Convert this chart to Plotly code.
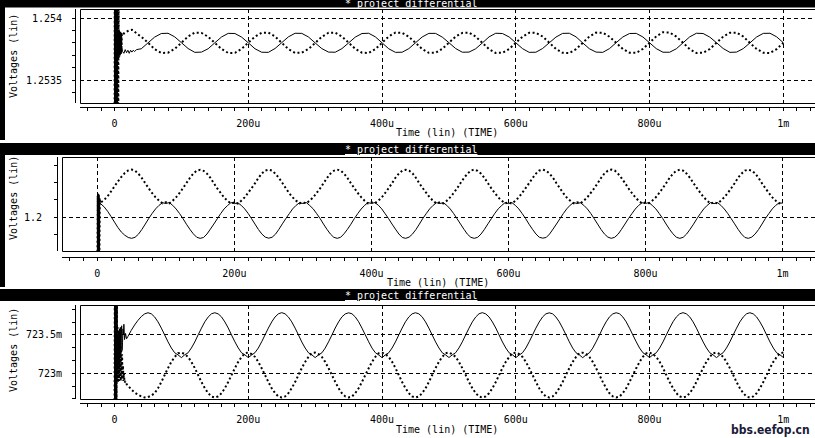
import plotly.graph_objects as go

W, H = 815, 438

# ---------------- axis ticks ----------------
TIME_TICKS = [0, 200e-6, 400e-6, 600e-6, 800e-6, 1e-3]
TIME_TICK_LABELS = ["0", "200u", "400u", "600u", "800u", "1m"]
X_RANGE = [-51.6e-6, 1047.3e-6]

P1_YTICKS = [1.2535, 1.254]
P1_YLABELS = ["1.2535", "1.254"]
P2_YTICKS = [1.2]
P2_YLABELS = ["1.2"]
P3_YTICKS = [0.723, 0.7235]
P3_YLABELS = ["723m", "723.5m"]

# ---------------- panel 1 data (time in us, voltage in mV) ----------------
P1_T_TR = [0, 0.4, 0.8, 1.2, 1.6, 2.0, 2.4, 2.8, 3.2, 3.6, 4.0, 4.4, 4.8, 5.2, 5.6, 6.0, 6.4, 6.8, 7.2,
           7.6, 8.0, 8.4, 8.8, 9.2, 9.6, 10.0, 10.5, 11.0, 12, 14, 16, 18, 20, 22, 24, 26, 28, 30, 33]
P1_SOLID_TR = [1252.8, 1254.6, 1252.8, 1254.6, 1252.8, 1254.6, 1252.8, 1254.6, 1252.9, 1253.86, 1253.70,
               1253.85, 1253.68, 1253.84, 1253.70, 1253.83, 1253.70, 1253.82, 1253.71, 1253.81, 1253.70,
               1253.80, 1253.72, 1253.79, 1253.71, 1253.78, 1253.72, 1253.76, 1253.73, 1253.715, 1253.745,
               1253.72, 1253.74, 1253.715, 1253.74, 1253.725, 1253.74, 1253.73, 1253.745]
P1_DOTTED_TR = [1252.8, 1254.6, 1252.8, 1254.6, 1252.8, 1254.6, 1252.8, 1254.6, 1252.8, 1254.6, 1252.8,
                1254.6, 1252.8, 1254.6, 1252.8, 1254.6, 1253.68, 1253.90, 1253.69, 1253.89, 1253.70,
                1253.89, 1253.71, 1253.88, 1253.73, 1253.88, 1253.76, 1253.87, 1253.86, 1253.875, 1253.885,
                1253.89, 1253.895, 1253.90, 1253.903, 1253.905, 1253.90, 1253.89, 1253.875]
P1_T_STEADY = list(range(40, 1001, 10))
P1_SOLID = [
    1253.752, 1253.799, 1253.846, 1253.875, 1253.877, 1253.848,
    1253.801, 1253.754, 1253.723, 1253.725, 1253.752, 1253.800, 1253.847, 1253.876, 1253.875, 1253.846,
    1253.800, 1253.752, 1253.724, 1253.723, 1253.754, 1253.801, 1253.848, 1253.877, 1253.876, 1253.847,
    1253.799, 1253.753, 1253.725, 1253.724, 1253.753, 1253.799, 1253.846, 1253.875, 1253.877, 1253.848,
    1253.800, 1253.752, 1253.723, 1253.724, 1253.753, 1253.800, 1253.847, 1253.876, 1253.876, 1253.846,
    1253.801, 1253.754, 1253.724, 1253.725, 1253.752, 1253.799, 1253.848, 1253.877, 1253.875, 1253.847,
    1253.800, 1253.753, 1253.723, 1253.724, 1253.754, 1253.800, 1253.846, 1253.876, 1253.877, 1253.848,
    1253.799, 1253.752, 1253.725, 1253.723, 1253.753, 1253.801, 1253.847, 1253.875, 1253.876, 1253.847,
    1253.800, 1253.753, 1253.724, 1253.724, 1253.752, 1253.800, 1253.848, 1253.877, 1253.875, 1253.846,
    1253.801, 1253.754, 1253.723, 1253.725, 1253.753, 1253.799, 1253.847, 1253.876, 1253.877, 1253.848,
    1253.800]
P1_DOTTED = [
    1253.849, 1253.801, 1253.748, 1253.718, 1253.720, 1253.751,
    1253.800, 1253.851, 1253.882, 1253.880, 1253.849, 1253.799, 1253.750, 1253.718, 1253.719, 1253.751,
    1253.801, 1253.850, 1253.880, 1253.882, 1253.851, 1253.800, 1253.749, 1253.719, 1253.720, 1253.750,
    1253.799, 1253.849, 1253.881, 1253.881, 1253.850, 1253.801, 1253.751, 1253.720, 1253.718, 1253.749,
    1253.800, 1253.851, 1253.882, 1253.881, 1253.849, 1253.800, 1253.750, 1253.719, 1253.719, 1253.751,
    1253.801, 1253.850, 1253.880, 1253.882, 1253.850, 1253.799, 1253.749, 1253.718, 1253.720, 1253.750,
    1253.800, 1253.849, 1253.881, 1253.880, 1253.851, 1253.801, 1253.751, 1253.719, 1253.718, 1253.749,
    1253.799, 1253.851, 1253.882, 1253.881, 1253.849, 1253.800, 1253.750, 1253.720, 1253.719, 1253.751,
    1253.801, 1253.852, 1253.885, 1253.883, 1253.850, 1253.800, 1253.749, 1253.718, 1253.720, 1253.750,
    1253.800, 1253.850, 1253.881, 1253.882, 1253.851, 1253.799, 1253.751, 1253.719, 1253.718, 1253.749,
    1253.800]

# ---------------- panel 2 data ----------------
P2_T_TR = [0, 0.5, 1.0, 1.5, 2.0, 2.5, 3.0, 3.5, 4.0]
P2_SOLID_TR = [1170, 1213.7, 1170, 1213.5, 1170, 1213.0, 1175, 1211.0, 1208.2]
P2_DOTTED_TR = [1170, 1212.5, 1170, 1212.0, 1172, 1211.0, 1178, 1210.0, 1208.3]
P2_T_STEADY = list(range(5, 1001, 5))
P2_DOTTED = [
    1208.5, 1210.0, 1212.2, 1214.9, 1217.8, 1220.6, 1223.2, 1225.4, 1226.9, 1227.4, 1226.8, 1225.0, 1222.5, 1219.6, 1216.6, 1213.9, 1211.5, 1209.6, 1208.1, 1208.7,
    1208.0, 1209.6, 1211.6, 1214.0, 1216.8, 1219.7, 1222.6, 1225.1, 1226.8, 1227.3, 1226.7, 1225.1, 1222.7, 1219.6, 1216.6, 1214.0, 1211.4, 1209.5, 1208.0, 1208.6,
    1207.9, 1209.6, 1211.5, 1214.1, 1216.7, 1219.5, 1222.6, 1225.2, 1226.9, 1227.4, 1226.8, 1225.0, 1222.6, 1219.7, 1216.7, 1213.9, 1211.5, 1209.6, 1208.1, 1208.7,
    1208.0, 1209.7, 1211.5, 1214.0, 1216.6, 1219.6, 1222.5, 1225.1, 1226.7, 1227.4, 1226.9, 1225.1, 1222.6, 1219.6, 1216.8, 1214.0, 1211.6, 1209.6, 1208.0, 1208.6,
    1208.1, 1209.6, 1211.4, 1214.0, 1216.7, 1219.6, 1222.7, 1225.1, 1226.8, 1227.3, 1226.8, 1225.2, 1222.6, 1219.5, 1216.7, 1214.1, 1211.5, 1209.5, 1207.9, 1208.7,
    1208.0, 1209.6, 1211.6, 1214.0, 1216.7, 1219.7, 1222.6, 1225.0, 1226.8, 1227.4, 1226.7, 1225.1, 1222.6, 1219.6, 1216.6, 1214.0, 1211.5, 1209.7, 1208.0, 1208.6,
    1207.9, 1209.5, 1211.5, 1214.1, 1216.8, 1219.6, 1222.5, 1225.1, 1226.9, 1227.4, 1226.8, 1225.1, 1222.7, 1219.6, 1216.7, 1213.9, 1211.4, 1209.6, 1208.1, 1208.7,
    1208.0, 1209.6, 1211.5, 1214.0, 1216.6, 1219.5, 1222.6, 1225.2, 1226.8, 1227.4, 1226.9, 1225.0, 1222.5, 1219.7, 1216.7, 1214.0, 1211.6, 1209.5, 1208.0, 1208.6,
    1208.1, 1209.7, 1211.5, 1214.0, 1216.7, 1219.6, 1222.6, 1225.1, 1226.7, 1227.3, 1226.8, 1225.1, 1222.6, 1219.6, 1216.8, 1214.1, 1211.5, 1209.6, 1207.9, 1208.7,
    1208.0, 1209.6, 1211.6, 1214.0, 1216.7, 1219.6, 1222.7, 1225.1, 1226.8, 1227.4, 1226.8, 1225.2, 1222.6, 1219.5, 1216.7, 1214.0, 1211.5, 1209.6, 1208.0, 1208.6]
P2_SOLID = [
    1207.8, 1206.0, 1203.5, 1200.5, 1197.3, 1194.2, 1191.6, 1189.8, 1188.5, 1188.0, 1188.6, 1190.4, 1193.1, 1196.2, 1199.4, 1202.3, 1204.9, 1206.9, 1208.4, 1208.0,
    1208.5, 1206.9, 1204.8, 1202.2, 1199.3, 1196.1, 1193.2, 1190.6, 1188.6, 1188.0, 1188.5, 1190.5, 1193.3, 1196.2, 1199.2, 1202.2, 1204.9, 1206.8, 1208.5, 1207.9,
    1208.4, 1206.9, 1204.9, 1202.3, 1199.3, 1196.2, 1193.1, 1190.5, 1188.7, 1188.1, 1188.6, 1190.4, 1193.2, 1196.3, 1199.3, 1202.1, 1204.9, 1206.9, 1208.4, 1208.0,
    1208.5, 1206.8, 1204.9, 1202.2, 1199.4, 1196.2, 1193.2, 1190.5, 1188.6, 1188.0, 1188.6, 1190.6, 1193.2, 1196.1, 1199.3, 1202.2, 1204.8, 1206.9, 1208.5, 1208.0,
    1208.5, 1207.0, 1204.9, 1202.1, 1199.3, 1196.2, 1193.3, 1190.5, 1188.5, 1188.0, 1188.7, 1190.5, 1193.1, 1196.2, 1199.4, 1202.2, 1204.9, 1206.9, 1208.4, 1208.0,
    1208.4, 1206.9, 1204.8, 1202.2, 1199.2, 1196.2, 1193.2, 1190.4, 1188.6, 1188.0, 1188.6, 1190.5, 1193.2, 1196.3, 1199.3, 1202.3, 1204.9, 1206.8, 1208.5, 1207.9,
    1208.5, 1206.9, 1204.9, 1202.2, 1199.3, 1196.1, 1193.2, 1190.5, 1188.6, 1188.1, 1188.5, 1190.5, 1193.3, 1196.2, 1199.2, 1202.2, 1204.9, 1207.0, 1208.5, 1208.0,
    1208.4, 1206.9, 1204.9, 1202.3, 1199.3, 1196.2, 1193.1, 1190.5, 1188.7, 1188.0, 1188.6, 1190.4, 1193.2, 1196.2, 1199.3, 1202.1, 1204.8, 1206.9, 1208.4, 1208.0,
    1208.5, 1206.8, 1204.9, 1202.2, 1199.4, 1196.2, 1193.2, 1190.6, 1188.6, 1188.0, 1188.6, 1190.5, 1193.2, 1196.1, 1199.3, 1202.2, 1204.9, 1206.9, 1208.5, 1207.9,
    1208.5, 1206.9, 1204.8, 1202.2, 1199.3, 1196.3, 1193.2, 1190.5, 1188.5, 1188.0, 1188.7, 1190.5, 1193.1, 1196.2, 1199.4, 1202.2, 1204.9, 1206.9, 1208.4, 1208.1]

# ---------------- panel 3 data ----------------
P3_T_TR = [0, 0.5, 1, 1.5, 2, 2.5, 3, 3.5, 4, 4.7, 5.3, 6, 6.7, 7.3, 8, 8.7, 9.3, 10, 10.7, 11.3, 12,
           12.7, 13.3, 14, 15, 16.5, 18]
P3_SOLID_TR = [722.3, 724.3, 722.3, 724.3, 722.3, 724.3, 722.3, 724.3, 723.10, 723.50, 723.00, 723.55,
               723.10, 723.58, 723.05, 723.60, 723.20, 723.45, 723.62, 723.30, 723.40, 723.58, 723.50,
               723.64, 723.44, 723.52, 723.45]
P3_DOTTED_TR = [722.3, 724.3, 722.3, 724.3, 722.3, 724.3, 722.3, 724.3, 722.90, 723.60, 722.88, 723.55,
                722.90, 723.50, 722.95, 723.45, 722.90, 723.35, 722.95, 723.25, 722.92, 723.10, 722.90,
                723.00, 722.88, 722.90, 722.86]
P3_T_STEADY = list(range(20, 1001, 5))
P3_SOLID = [
    723.480, 723.560, 723.630, 723.690, 723.740, 723.775, 723.790, 723.776, 723.735, 723.671, 723.590, 723.500, 723.410, 723.330, 723.268, 723.240, 723.205,
    723.241, 723.268, 723.331, 723.409, 723.501, 723.589, 723.672, 723.734, 723.777, 723.790, 723.775, 723.736, 723.670, 723.591, 723.499, 723.410, 723.331, 723.267, 723.240, 723.206,
    723.239, 723.269, 723.330, 723.411, 723.500, 723.590, 723.670, 723.735, 723.776, 723.791, 723.776, 723.734, 723.671, 723.590, 723.501, 723.409, 723.330, 723.268, 723.241, 723.205,
    723.240, 723.267, 723.329, 723.410, 723.499, 723.591, 723.671, 723.736, 723.775, 723.789, 723.777, 723.735, 723.672, 723.589, 723.500, 723.411, 723.329, 723.269, 723.239, 723.204,
    723.241, 723.268, 723.330, 723.409, 723.500, 723.590, 723.672, 723.735, 723.776, 723.790, 723.776, 723.736, 723.671, 723.590, 723.499, 723.410, 723.331, 723.268, 723.240, 723.206,
    723.240, 723.269, 723.331, 723.410, 723.501, 723.589, 723.671, 723.734, 723.777, 723.791, 723.775, 723.735, 723.670, 723.591, 723.500, 723.409, 723.330, 723.267, 723.241, 723.205,
    723.239, 723.268, 723.330, 723.411, 723.500, 723.590, 723.670, 723.735, 723.776, 723.789, 723.776, 723.734, 723.671, 723.590, 723.501, 723.410, 723.329, 723.268, 723.240, 723.204,
    723.240, 723.267, 723.329, 723.410, 723.499, 723.591, 723.671, 723.736, 723.775, 723.790, 723.777, 723.735, 723.672, 723.589, 723.500, 723.411, 723.330, 723.269, 723.239, 723.206,
    723.241, 723.268, 723.330, 723.409, 723.500, 723.590, 723.672, 723.735, 723.776, 723.791, 723.776, 723.736, 723.671, 723.590, 723.499, 723.410, 723.331, 723.268, 723.240, 723.205,
    723.240, 723.269, 723.331, 723.410, 723.501, 723.589, 723.671, 723.734, 723.777, 723.790, 723.775, 723.735, 723.670, 723.591, 723.500, 723.409, 723.330, 723.267, 723.241, 723.206]
P3_DOTTED = [
    722.840, 722.790, 722.750, 722.720, 722.700, 722.685, 722.690, 722.710, 722.741, 722.806, 722.887, 722.978, 723.068, 723.149, 723.214, 723.262, 723.270,
    723.251, 723.214, 723.148, 723.069, 722.978, 722.886, 722.807, 722.741, 722.697, 722.685, 722.699, 722.740, 722.806, 722.888, 722.977, 723.068, 723.150, 723.213, 723.262, 723.271,
    723.249, 723.215, 723.149, 723.067, 722.979, 722.887, 722.805, 722.742, 722.698, 722.684, 722.698, 722.741, 722.807, 722.886, 722.978, 723.069, 723.148, 723.214, 723.263, 723.270,
    723.250, 723.213, 723.150, 723.068, 722.977, 722.888, 722.806, 722.740, 722.699, 722.686, 722.697, 722.742, 722.806, 722.887, 722.979, 723.067, 723.149, 723.215, 723.261, 723.269,
    723.251, 723.214, 723.149, 723.069, 722.978, 722.887, 722.807, 722.741, 722.698, 722.685, 722.698, 722.741, 722.805, 722.888, 722.978, 723.068, 723.150, 723.214, 723.262, 723.271,
    723.249, 723.215, 723.148, 723.068, 722.979, 722.886, 722.806, 722.742, 722.697, 722.684, 722.699, 722.740, 722.806, 722.887, 722.977, 723.069, 723.149, 723.213, 723.263, 723.270,
    723.250, 723.214, 723.149, 723.067, 722.978, 722.887, 722.805, 722.741, 722.698, 722.685, 722.698, 722.741, 722.807, 722.886, 722.978, 723.068, 723.148, 723.214, 723.262, 723.269,
    723.251, 723.213, 723.150, 723.068, 722.977, 722.888, 722.806, 722.740, 722.699, 722.686, 722.697, 722.742, 722.806, 722.887, 722.979, 723.067, 723.149, 723.215, 723.261, 723.271,
    723.249, 723.214, 723.149, 723.069, 722.978, 722.887, 722.807, 722.741, 722.698, 722.685, 722.698, 722.741, 722.805, 722.888, 722.978, 723.068, 723.150, 723.214, 723.262, 723.270,
    723.250, 723.215, 723.148, 723.068, 722.979, 722.886, 722.806, 722.742, 722.697, 722.684, 722.699, 722.740, 722.806, 722.887, 722.977, 723.069, 723.149, 723.213, 723.263, 723.271]

TITLE = "* project differential"
X_TITLE = "Time (lin) (TIME)"
Y_TITLE = "Voltages (lin)"
WATERMARK = "bbs.eefop.cn"

MONO = "DejaVu Sans Mono, Liberation Mono, monospace"


def fx(x):
    return x / W


def fy(y):
    return 1 - y / H


def us(lst):
    return [v * 1e-6 for v in lst]


def mv(lst):
    return [v * 1e-3 for v in lst]


panels = [
    dict(t=P1_T_TR + P1_T_STEADY, s=P1_SOLID_TR + P1_SOLID, d=P1_DOTTED_TR + P1_DOTTED,
         left=80, top=9, bottom=103, yruler=75, xruler=107,
         yrange=[1.2533145, 1.2540726], yticks=P1_YTICKS, ylabels=P1_YLABELS,
         ytick0=1.2535, ydt=1e-4, ystand=8,
         bar=(0, 7.5), title_y=3, xtitle=(447, 133), ytitle_y=56, strip=(0, 140)),
    dict(t=P2_T_TR + P2_T_STEADY, s=P2_SOLID_TR + P2_SOLID, d=P2_DOTTED_TR + P2_DOTTED,
         left=62, top=157, bottom=251, yruler=57, xruler=257,
         yrange=[1.180743, 1.234629], yticks=P2_YTICKS, ylabels=P2_YLABELS,
         ytick0=1.2, ydt=0.01, ystand=10,
         bar=(143, 155), title_y=149.5, xtitle=(438, 282), ytitle_y=198, strip=(143, 287)),
    dict(t=P3_T_TR + P3_T_STEADY, s=P3_SOLID_TR + P3_SOLID, d=P3_DOTTED_TR + P3_DOTTED,
         left=80, top=305, bottom=399, yruler=75, xruler=403,
         yrange=[0.722665, 0.723891], yticks=P3_YTICKS, ylabels=P3_YLABELS,
         ytick0=0.723, ydt=0.5e-3 / 3, ystand=8,
         bar=(289, 301), title_y=295, xtitle=(447, 429), ytitle_y=350, strip=None),
]

fig = go.Figure()
shapes = []
annotations = []
layout = dict(
    width=W, height=H, autosize=False,
    margin=dict(l=0, r=0, t=0, b=0, pad=0),
    paper_bgcolor="white", plot_bgcolor="white",
    showlegend=False, hovermode=False,
)

for i, p in enumerate(panels):
    sfx = "" if i == 0 else str(i + 1)
    xa, ya = "x" + sfx, "y" + sfx
    tt = us(p["t"])
    fig.add_trace(go.Scatter(x=tt, y=mv(p["d"]), mode="lines", xaxis=xa, yaxis=ya,
                             line=dict(color="black", width=2, dash="2px,2.5px", simplify=False),
                             hoverinfo="skip"))
    fig.add_trace(go.Scatter(x=tt, y=mv(p["s"]), mode="lines", xaxis=xa, yaxis=ya,
                             line=dict(color="black", width=1, simplify=False),
                             hoverinfo="skip"))
    layout["xaxis" + sfx] = dict(
        domain=[fx(p["left"]), 1], range=X_RANGE, anchor="free", position=fy(p["xruler"]),
        showline=True, linecolor="black", linewidth=1,
        ticks="outside", ticklen=3, tickwidth=1, tickcolor="black",
        tickmode="array", tickvals=TIME_TICKS, ticktext=TIME_TICK_LABELS,
        tickfont=dict(family=MONO, size=10, color="black"), ticklabelstandoff=4,
        showgrid=True, gridcolor="black", gridwidth=1, griddash="4px,3px",
        zeroline=False, fixedrange=True,
        minor=dict(ticks="outside", ticklen=3, tickwidth=1, tickcolor="black",
                   tickmode="linear", tick0=0, dtick=2e-5, showgrid=False),
    )
    layout["yaxis" + sfx] = dict(
        domain=[fy(p["bottom"]), fy(p["top"])], range=p["yrange"], anchor="free",
        position=fx(p["yruler"]),
        showline=True, linecolor="black", linewidth=1,
        ticks="outside", ticklen=3, tickwidth=1, tickcolor="black",
        tickmode="array", tickvals=p["yticks"], ticktext=p["ylabels"],
        tickfont=dict(family=MONO, size=10, color="black"), ticklabelstandoff=p["ystand"],
        showgrid=True, gridcolor="black", gridwidth=1, griddash="4px,3px",
        zeroline=False, fixedrange=True,
        minor=dict(ticks="outside", ticklen=3, tickwidth=1, tickcolor="black",
                   tickmode="linear", tick0=p["ytick0"], dtick=p["ydt"], showgrid=False),
    )
    # frame (top, bottom, left)
    for (x0, y0, x1, y1) in [(p["left"] + 0.5, p["top"] + 0.5, W + 5, p["top"] + 0.5),
                             (p["left"] + 0.5, p["bottom"] + 0.5, W + 5, p["bottom"] + 0.5),
                             (p["left"] + 0.5, p["top"] + 0.5, p["left"] + 0.5, p["bottom"] + 0.5)]:
        shapes.append(dict(type="line", xref="paper", yref="paper",
                           x0=fx(x0), y0=fy(y0), x1=fx(x1), y1=fy(y1),
                           line=dict(color="black", width=1), layer="above"))
    # title bar
    b0, b1 = p["bar"]
    shapes.append(dict(type="rect", xref="paper", yref="paper", x0=0, x1=1,
                       y0=fy(b1), y1=fy(b0), fillcolor="black", line=dict(width=0), layer="above"))
    if p["strip"]:
        s0, s1 = p["strip"]
        shapes.append(dict(type="rect", xref="paper", yref="paper", x0=0, x1=fx(5),
                           y0=fy(s1), y1=fy(s0), fillcolor="black", line=dict(width=0), layer="above"))
    annotations.append(dict(text="<u>" + TITLE + "</u>", xref="paper", yref="paper",
                            x=fx(411), y=fy(p["title_y"]), xanchor="center", yanchor="middle",
                            showarrow=False, font=dict(family=MONO, size=10, color="white")))
    annotations.append(dict(text=X_TITLE, xref="paper", yref="paper",
                            x=fx(p["xtitle"][0]), y=fy(p["xtitle"][1]), xanchor="center",
                            yanchor="middle", showarrow=False,
                            font=dict(family=MONO, size=10, color="black")))
    annotations.append(dict(text=Y_TITLE, xref="paper", yref="paper", textangle=-90,
                            x=fx(13), y=fy(p["ytitle_y"]), xanchor="center", yanchor="middle",
                            showarrow=False, font=dict(family=MONO, size=10, color="black")))

annotations.append(dict(text="<b>" + WATERMARK + "</b>", xref="paper", yref="paper",
                        x=fx(812), y=fy(430), xanchor="right", yanchor="middle", showarrow=False,
                        font=dict(family="Liberation Sans Narrow, DejaVu Sans Condensed, Roboto",
                                  size=12, color="#1a1a3a")))

layout["shapes"] = shapes
layout["annotations"] = annotations
fig.update_layout(**layout)
fig.write_html("out.html", config={"displayModeBar": False, "staticPlot": True},
               post_script="document.body.style.margin='0px';document.body.style.overflow='hidden';")
